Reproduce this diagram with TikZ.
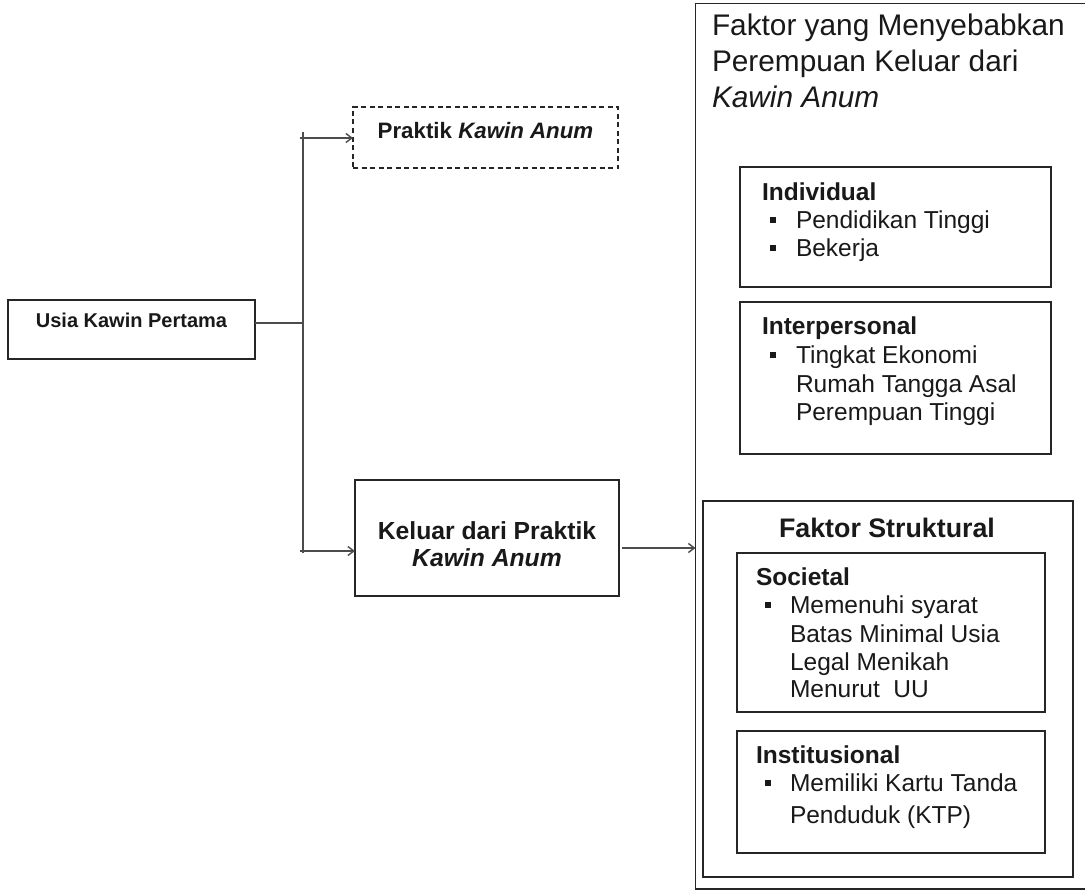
\documentclass[tikz,border=0pt]{standalone}
\usepackage{fontspec}
\setmainfont{Liberation Sans}
\usetikzlibrary{arrows.meta}
\newcommand{\bsqa}{\makebox[26pt][l]{\rule[5pt]{6pt}{6pt}}}
\newcommand{\bsqb}{\makebox[25pt][l]{\rule[5pt]{6pt}{6pt}}}
\begin{document}
\begin{tikzpicture}[x=1pt,y=-1pt,
  box/.style={draw=black!85, line width=1.5pt, rectangle, inner sep=0pt, outer sep=0pt},
  dbox/.style={box, dash pattern=on 5pt off 3.5pt},
  conn/.style={draw=black!70, line width=1.6pt},
  arr/.style={conn, -{Straight Barb[length=6pt,width=9pt,line width=1.4pt]}},
  body/.style={inner sep=0pt, outer sep=0pt, anchor=base west, text=black!90, font=\fontsize{24.5}{28}\selectfont},
  btitle/.style={body, font=\fontsize{24.5}{28}\selectfont\bfseries},
  head/.style={body, font=\fontsize{29.8}{35}\selectfont},
  ctext/.style={inner sep=0pt, outer sep=0pt, anchor=base, text=black!90},
]
\useasboundingbox (0,0) rectangle (1085,891);
\fill[white] (0,0) rectangle (1085,891);
\clip (0,0) rectangle (1085,891);

% ---- left side boxes
\node[box, minimum width=247pt, minimum height=59pt] (usia) at (131.5,329.5) {};
\node[ctext, font=\fontsize{20}{24}\selectfont\bfseries] (usiat) at (131.5,327) {Usia Kawin Pertama};

\node[dbox, minimum width=265pt, minimum height=61pt] (praktik) at (485.5,137.5) {};
\node[ctext, font=\fontsize{22.3}{26}\selectfont\bfseries] (praktikt) at (485.5,138) {Praktik \textit{Kawin Anum}};

\node[box, minimum width=264pt, minimum height=116pt] (keluar) at (487,538) {};
\node[ctext, font=\fontsize{24.7}{28}\selectfont\bfseries] (keluar1) at (487,539) {Keluar dari Praktik};
\node[ctext, font=\fontsize{24.7}{28}\selectfont\bfseries\itshape] (keluar2) at (487,566) {Kawin Anum};

% ---- outer factor box (right edge outside the picture)
\node[box, minimum width=420pt, minimum height=885.5pt] (outer) at (905.5,446.25) {};
\node[head] (h1) at (712,36) {Faktor yang Menyebabkan};
\node[head] (h2) at (712,71.5) {Perempuan Keluar dari};
\node[head] (h3) at (712,107) {\itshape Kawin Anum};

% Individual
\node[box, minimum width=311pt, minimum height=120pt] (indiv) at (895.5,227) {};
\node[btitle] (indivt) at (762,200) {Individual};
\node[body] (indiv1) at (770,228) {\bsqa Pendidikan Tinggi};
\node[body] (indiv2) at (770,256) {\bsqa Bekerja};

% Interpersonal
\node[box, minimum width=311pt, minimum height=152pt] (inter) at (895.5,378) {};
\node[btitle] (intert) at (762,334) {Interpersonal};
\node[body] (inter1) at (770,363) {\bsqa Tingkat Ekonomi};
\node[body] (inter2) at (796,392) {Rumah Tangga Asal};
\node[body] (inter3) at (796,420) {Perempuan Tinggi};

% Faktor Struktural
\node[box, minimum width=370pt, minimum height=376pt] (struk) at (888,689) {};
\node[ctext, font=\fontsize{26.8}{30}\selectfont\bfseries] (strukt) at (887,537) {Faktor Struktural};

% Societal
\node[box, minimum width=308pt, minimum height=159pt] (soc) at (891,632.5) {};
\node[btitle] (soct) at (756,585) {Societal};
\node[body] (soc1) at (765,613) {\bsqb Memenuhi syarat};
\node[body] (soc2) at (790,642) {Batas Minimal Usia};
\node[body] (soc3) at (790,670) {Legal Menikah};
\node[body] (soc4) at (790,697) {Menurut\ \ UU};

% Institusional
\node[box, minimum width=308pt, minimum height=122pt] (inst) at (891,792) {};
\node[btitle] (instt) at (756,763) {Institusional};
\node[body] (inst1) at (765,791) {\bsqb Memiliki Kartu Tanda};
\node[body] (inst2) at (790,823) {Penduduk (KTP)};

% ---- connectors
\coordinate (vtop) at (303,132);
\coordinate (vbot) at (303,553);
\coordinate (jmid) at (303,323);
\coordinate (jtop) at (300,138);
\coordinate (jbot) at (300,551);
\coordinate (kout) at (622,548);
\draw[conn] (vtop) -- (vbot);
\draw[conn] (jmid -| usia.east) -- (jmid);
\draw[arr] (jtop) -- (jtop -| praktik.west);
\draw[arr] (jbot) -- (jbot -| keluar.west);
\draw[arr] (kout) -- (kout -| outer.west);
\end{tikzpicture}
\end{document}
